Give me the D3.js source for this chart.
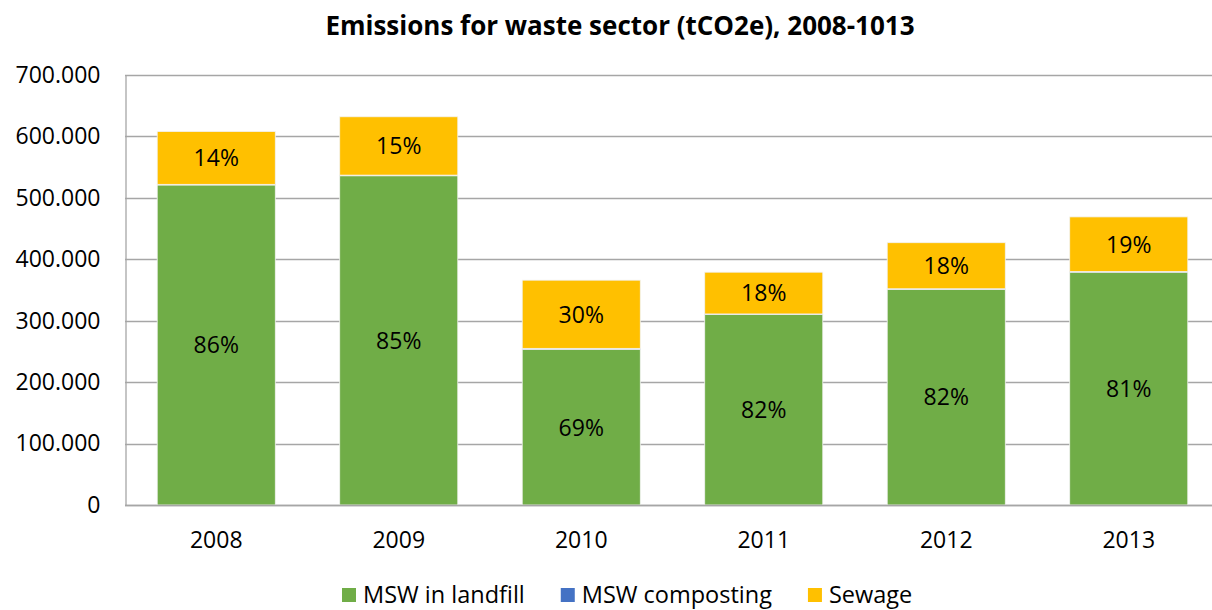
<!DOCTYPE html>
<html>
<head>
<meta charset="utf-8">
<script src="https://cdn.jsdelivr.net/npm/d3@7"></script>
<style>
	body { margin: 0; background: #fff; }
	svg { display: block; font-family: "Open Sans", sans-serif; }
</style>
</head>
<body>
<div id="chart"></div>
<script>
const years = ["2008", "2009", "2010", "2011", "2012", "2013"];
const landfill = [521000, 536000, 253000, 310000, 351000, 379000];
const composting = [1000, 1000, 2000, 1000, 1000, 1000];
const sewage = [86000, 95000, 111000, 68000, 75000, 89000];
const yTicks = [0, 100000, 200000, 300000, 400000, 500000, 600000, 700000];

const seriesNames = ["MSW in landfill", "MSW composting", "Sewage"];
const seriesColors = ["#70ad47", "#4472c4", "#ffc000"];

const width = 1212, height = 610;
const margin = { left: 125, right: -8, top: 75, bottom: 105 };

const rows = years.map((y, i) => ({
	year: y,
	landfill: landfill[i],
	composting: composting[i],
	sewage: sewage[i],
	total: landfill[i] + composting[i] + sewage[i]
}));

const keys = ["landfill", "composting", "sewage"];
const stacked = d3.stack().keys(keys)(rows);

const svg = d3.select('#chart').append('svg')
	.attr('width', width)
	.attr('height', height);

const x = d3.scaleBand()
	.domain(years)
	.range([margin.left, width - margin.right])
	.paddingInner(0.353)
	.paddingOuter(0.1765);

const y = d3.scaleLinear()
	.domain([0, 700000])
	.range([height - margin.bottom, margin.top]);

// gridlines
svg.append('g')
	.selectAll('line')
	.data(yTicks)
	.enter().append('line')
	.attr('x1', margin.left)
	.attr('x2', width)
	.attr('y1', d => Math.round(y(d)) + 0.5)
	.attr('y2', d => Math.round(y(d)) + 0.5)
	.attr('stroke', '#a6a6a6')
	.attr('stroke-width', 1.3);

// y axis
const yAxis = svg.append('g')
	.attr('transform', `translate(${margin.left + 0.5},0)`)
	.call(d3.axisLeft(y)
		.tickValues(yTicks)
		.tickSize(0)
		.tickPadding(25)
		.tickFormat(d => d === 0 ? "0" : d3.format(",")(d).replace(/,/g, ".")));

yAxis.select('.domain').attr('stroke', '#a6a6a6').attr('stroke-width', 1.3);
yAxis.selectAll('text')
	.attr('fill', '#000')
	.style('font-size', '23px')
	.style('font-family', '"Open Sans", sans-serif');

// bars
const layers = svg.append('g')
	.selectAll('g')
	.data(stacked)
	.enter().append('g')
	.attr('fill', (d, i) => seriesColors[i]);

layers.selectAll('rect')
	.data(d => d)
	.enter().append('rect')
	.attr('x', d => x(d.data.year))
	.attr('width', x.bandwidth())
	.attr('y', d => y(d[1]))
	.attr('height', d => y(d[0]) - y(d[1]))
	.attr('stroke', '#f2f2f2')
	.attr('stroke-width', 0.8);

// bottom axis line
svg.append('line')
	.attr('x1', margin.left)
	.attr('x2', width)
	.attr('y1', Math.round(y(0)) + 0.5)
	.attr('y2', Math.round(y(0)) + 0.5)
	.attr('stroke', '#a6a6a6')
	.attr('stroke-width', 1.3);

// percentage labels on landfill and sewage
const labelled = [stacked[0], stacked[2]];
svg.append('g')
	.selectAll('g')
	.data(labelled)
	.enter().append('g')
	.selectAll('text')
	.data(d => d.map(s => ({ s: s, key: d.key })))
	.enter().append('text')
	.attr('x', d => x(d.s.data.year) + x.bandwidth() / 2)
	.attr('y', d => (y(d.s[0]) + y(d.s[1])) / 2)
	.attr('dy', '0.36em')
	.attr('text-anchor', 'middle')
	.style('font-size', '23px')
	.attr('fill', '#000')
	.text(d => Math.round(d.s.data[d.key] / d.s.data.total * 100) + "%");

// x labels
svg.append('g')
	.selectAll('text')
	.data(years)
	.enter().append('text')
	.attr('x', d => x(d) + x.bandwidth() / 2)
	.attr('y', 548)
	.attr('text-anchor', 'middle')
	.style('font-size', '23px')
	.attr('fill', '#000')
	.text(d => d);

// title
svg.append('text')
	.attr('x', 620)
	.attr('y', 35)
	.attr('text-anchor', 'middle')
	.style('font-size', '26px')
	.style('font-weight', 'bold')
	.attr('fill', '#000')
	.text("Emissions for waste sector (tCO2e), 2008-1013");

// legend
const legend = svg.append('g');
let lx = 342;
const gap = 36;
seriesNames.forEach((name, i) => {
	const item = legend.append('g').attr('transform', `translate(${lx},0)`);
	item.append('rect')
		.attr('x', 0)
		.attr('y', 588)
		.attr('width', 14)
		.attr('height', 14)
		.attr('fill', seriesColors[i]);
	const t = item.append('text')
		.attr('x', 21)
		.attr('y', 602.5)
		.style('font-size', '23.5px')
		.attr('fill', '#000')
		.text(name);
	lx += 21 + t.node().getComputedTextLength() + gap;
});
</script>
</body>
</html>
